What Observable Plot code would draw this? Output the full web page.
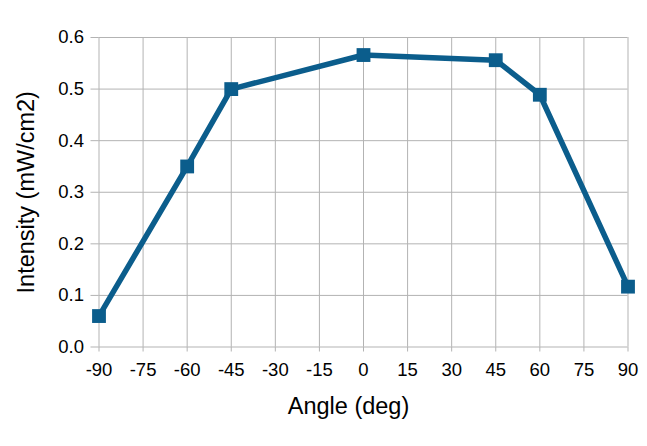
<!DOCTYPE html>
<html>
<head>
<meta charset="utf-8">
<script src="https://cdn.jsdelivr.net/npm/d3@7"></script>
<script src="https://cdn.jsdelivr.net/npm/@observablehq/plot@0.6"></script>
<style>
  html, body { margin: 0; padding: 0; background: #fff; }
  #chart { width: 647px; height: 446px; }
</style>
</head>
<body>
<div id="chart"></div>
<script>
const angles = [-90, -60, -45, 0, 45, 60, 90];
const intensity = [0.060, 0.350, 0.500, 0.566, 0.556, 0.489, 0.117];
const xTicks = [-90, -75, -60, -45, -30, -15, 0, 15, 30, 45, 60, 75, 90];
const yTicks = [0, 0.1, 0.2, 0.3, 0.4, 0.5, 0.6];
const xTitle = "Angle (deg)";
const yTitle = "Intensity (mW/cm2)";

const data = angles.map((a, i) => ({angle: a, value: intensity[i]}));
const lineColor = "#0b5d8c";
const gridColor = "#b3b3b3";

const chart = Plot.plot({
  width: 647,
  height: 446,
  marginLeft: 98.5,
  marginRight: 19.5,
  marginTop: 37,
  marginBottom: 99.5,
  style: {fontFamily: "'Liberation Sans', Arial, sans-serif", fontSize: "18.5px", color: "#000", background: "#fff"},
  x: {domain: [-90, 90]},
  y: {domain: [0, 0.6]},
  marks: [
    Plot.gridX(xTicks, {stroke: gridColor, strokeOpacity: 1, strokeWidth: 1}),
    Plot.gridY(yTicks, {stroke: gridColor, strokeOpacity: 1, strokeWidth: 1}),
    Plot.axisX(xTicks, {tickSize: 5, stroke: gridColor, tickPadding: 11, tickFormat: d => String(d), fontSize: 18.5, label: null}),
    Plot.axisY(yTicks, {tickSize: 8, stroke: gridColor, tickPadding: 7, tickFormat: d3.format(".1f"), fontSize: 18.5, label: null}),
    Plot.text([xTitle], {frameAnchor: "bottom", dx: -15, dy: 67, text: d => d, fontSize: 23.5, fill: "#000", textAnchor: "middle"}),
    Plot.text([yTitle], {frameAnchor: "left", dx: -73, rotate: -90, text: d => d, fontSize: 23.5, fill: "#000", textAnchor: "middle"}),
    Plot.line(data, {x: "angle", y: "value", stroke: lineColor, strokeWidth: 5.5, strokeLinejoin: "round"}),
    Plot.dot(data, {x: "angle", y: "value", symbol: "square", r: 7.8, fill: lineColor, stroke: null})
  ]
});
document.getElementById("chart").appendChild(chart);
</script>
</body>
</html>
